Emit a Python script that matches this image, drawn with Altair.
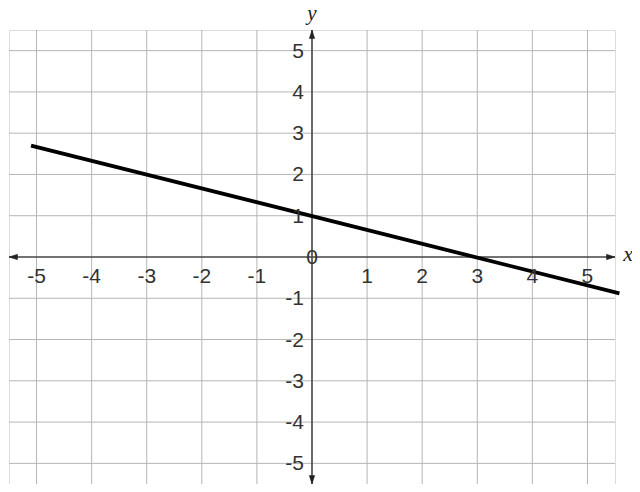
import altair as alt
import pandas as pd

# --- data ---
grid_vals = [-5, -4, -3, -2, -1, 1, 2, 3, 4, 5]
x_tick_labels = ["-5", "-4", "-3", "-2", "-1", "1", "2", "3", "4", "5"]
y_tick_labels = ["-5", "-4", "-3", "-2", "-1", "1", "2", "3", "4", "5"]
line_x = [-5.1, 5.58]
line_y = [2.7, -0.88]
LIM = 5.5

dom = [-LIM, LIM]
W, H = 606, 454

xs = alt.Scale(domain=dom, nice=False, zero=False)
ys = alt.Scale(domain=dom, nice=False, zero=False)

grid_df = pd.DataFrame({"v": grid_vals})

vgrid = alt.Chart(grid_df).mark_rule(color="#b5b5b5", strokeWidth=1).encode(
    x=alt.X("v:Q", scale=xs, axis=None)
)
hgrid = alt.Chart(grid_df).mark_rule(color="#b5b5b5", strokeWidth=1).encode(
    y=alt.Y("v:Q", scale=ys, axis=None)
)

axis_df = pd.DataFrame({"v": [0]})
xaxis = alt.Chart(axis_df).mark_rule(color="#444444", strokeWidth=1.6).encode(
    y=alt.Y("v:Q", scale=ys, axis=None)
)
yaxis = alt.Chart(axis_df).mark_rule(color="#444444", strokeWidth=1.6).encode(
    x=alt.X("v:Q", scale=xs, axis=None)
)

arrow_specs = [
    (LIM, 0, "M0,0L-2.2,-0.7L-2.2,0.7Z"),
    (-LIM, 0, "M0,0L2.2,-0.7L2.2,0.7Z"),
    (0, LIM, "M0,0L-0.7,2.2L0.7,2.2Z"),
    (0, -LIM, "M0,0L-0.7,-2.2L0.7,-2.2Z"),
]
arrow_layers = []
for ax_, ay_, path in arrow_specs:
    arrow_layers.append(
        alt.Chart(pd.DataFrame({"x": [ax_], "y": [ay_]})).mark_point(
            shape=path, filled=True, fill="#222222", stroke="#222222",
            strokeWidth=0.5, opacity=1, size=60
        ).encode(
            x=alt.X("x:Q", scale=xs, axis=None),
            y=alt.Y("y:Q", scale=ys, axis=None),
        )
    )

line_df = pd.DataFrame({"x": line_x, "y": line_y})
line = alt.Chart(line_df).mark_line(color="black", strokeWidth=3.8).encode(
    x=alt.X("x:Q", scale=xs, axis=None),
    y=alt.Y("y:Q", scale=ys, axis=None),
)

xl_df = pd.DataFrame({"x": grid_vals, "y": [0] * len(grid_vals), "t": x_tick_labels})
xlabels = alt.Chart(xl_df).mark_text(
    font="Liberation Sans", fontSize=21, color="#333333", align="center", baseline="middle", dy=20
).encode(
    x=alt.X("x:Q", scale=xs, axis=None),
    y=alt.Y("y:Q", scale=ys, axis=None),
    text="t:N",
)

yl_df = pd.DataFrame({"x": [0] * len(grid_vals), "y": grid_vals, "t": y_tick_labels})
ylabels = alt.Chart(yl_df).mark_text(
    font="Liberation Sans", fontSize=21, color="#333333", align="right", baseline="middle", dx=-8, dy=1
).encode(
    x=alt.X("x:Q", scale=xs, axis=None),
    y=alt.Y("y:Q", scale=ys, axis=None),
    text="t:N",
)

zero_df = pd.DataFrame({"x": [0], "y": [0], "t": ["0"]})
zero = alt.Chart(zero_df).mark_text(
    font="Liberation Sans", fontSize=21, color="#333333", align="center", baseline="middle", dy=1
).encode(
    x=alt.X("x:Q", scale=xs, axis=None),
    y=alt.Y("y:Q", scale=ys, axis=None),
    text="t:N",
)

xname = alt.Chart(pd.DataFrame({"x": [LIM], "y": [0], "t": ["x"]})).mark_text(
    font="Liberation Serif", fontStyle="italic", fontSize=22, color="#222222",
    align="center", baseline="alphabetic", dx=13, dy=4
).encode(
    x=alt.X("x:Q", scale=xs, axis=None),
    y=alt.Y("y:Q", scale=ys, axis=None),
    text="t:N",
)
yname = alt.Chart(pd.DataFrame({"x": [0], "y": [LIM], "t": ["y"]})).mark_text(
    font="Liberation Serif", fontStyle="italic", fontSize=21, color="#222222",
    align="center", baseline="alphabetic", dy=-10
).encode(
    x=alt.X("x:Q", scale=xs, axis=None),
    y=alt.Y("y:Q", scale=ys, axis=None),
    text="t:N",
)

chart = alt.layer(
    vgrid, hgrid, xaxis, yaxis, line, *arrow_layers, xlabels, ylabels, zero, xname, yname
).properties(
    width=W, height=H,
    autosize=alt.AutoSizeParams(type="none"),
    padding={"left": 1, "top": 22, "right": 17, "bottom": 0},
).configure_view(stroke=None).configure(background="white")

chart.save("out.html", embed_options={"renderer": "svg", "actions": False})
